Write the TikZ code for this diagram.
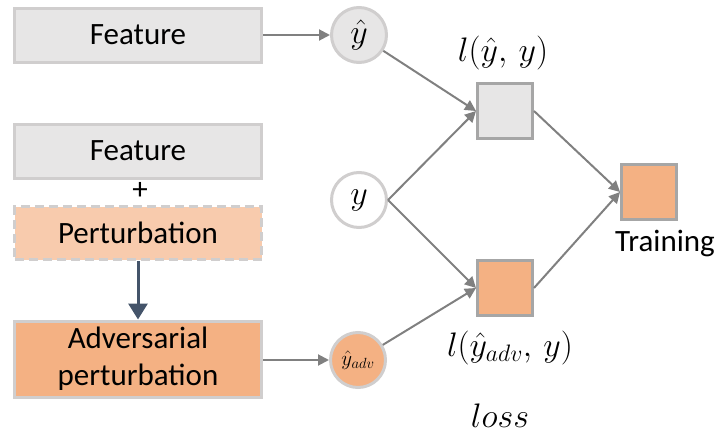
\RequirePackage{fix-cm}
\documentclass[tikz,border=0pt]{standalone}
\usepackage{fontspec}
\setmainfont{Carlito}
\usetikzlibrary{arrows.meta}
\definecolor{boxgray}{HTML}{E7E6E6}
\definecolor{bordgray}{HTML}{D0CECE}
\definecolor{peach}{HTML}{F8CBAD}
\definecolor{orange2}{HTML}{F4B183}
\definecolor{sqbord}{HTML}{A6A6A6}
\definecolor{arrgray}{HTML}{808080}
\definecolor{darkarr}{HTML}{44546A}
\begin{document}
\begin{tikzpicture}[x=1pt,y=-1pt,
  box/.style={draw=bordgray,line width=3pt,minimum width=247pt,inner sep=0pt,align=center,font=\fontsize{31}{37}\selectfont},
  circ/.style={circle,draw=bordgray,line width=3pt,minimum size=55pt,inner sep=0pt,font=\fontsize{34}{38}\selectfont},
  sq/.style={draw=sqbord,line width=3pt,minimum size=55pt,inner sep=0pt},
  conn/.style={draw=arrgray,line width=2pt,-{Triangle[length=11pt,width=11pt]}},
  mlabel/.style={font=\fontsize{34}{38}\selectfont,inner sep=0pt},
  tlabel/.style={font=\fontsize{31}{36}\selectfont,inner sep=0pt}]
\useasboundingbox (0,0) rectangle (718,434);
% left boxes
\node[box,fill=boxgray,minimum height=54pt] (f1) at (138,35) {Feature};
\node[box,fill=boxgray,minimum height=54pt] (f2) at (138,151) {Feature};
\node[tlabel] (plus) at (140,191) {+};
\node[box,fill=peach,minimum height=53pt,dashed,dash pattern=on 9pt off 5pt] (pert) at (138,233) {Perturbation};
\node[box,fill=orange2,minimum height=76pt] (adv) at (138,359) {Adversarial\\perturbation};
% circles
\node[circ,fill=boxgray] (yhat) at (359,35) {$\hat{y}$};
\node[circ,fill=white] (y) at (359,200) {$y$};
\node[circ,fill=orange2,font=\fontsize{21}{24}\selectfont] (yadv) at (358,360) {$\hat{y}_{adv}$};
% squares
\node[sq,fill=boxgray] (l1) at (505,111) {};
\node[sq,fill=orange2] (l2) at (505,288) {};
\node[sq,fill=orange2] (tr) at (649,192) {};
% labels
\node[mlabel] (lab1) at (503,53) {$l(\hat{y},\,y)$};
\node[mlabel] (lab2) at (510,348) {$l(\hat{y}_{adv},\,y)$};
\node[tlabel] (labt) at (665,243) {Training};
\node[mlabel] (loss) at (500,416) {$loss$};
% connectors
\draw[conn] (f1.east) -- (yhat.west);
\draw[conn] (adv.east |- yadv) -- (yadv.west);
\draw[draw=darkarr,line width=3pt,-{Triangle[length=16pt,width=19pt]}] (pert.south) -- (adv.north);
\draw[conn] (yhat) -- (l1.west);
\draw[conn] (y.east) -- (l1.west);
\draw[conn] (y.east) -- (l2.west);
\draw[conn] (yadv) -- (l2.west);
\draw[conn] (l1.east) -- (tr.west);
\draw[conn] (l2.east) -- (tr.west);
\end{tikzpicture}
\end{document}
